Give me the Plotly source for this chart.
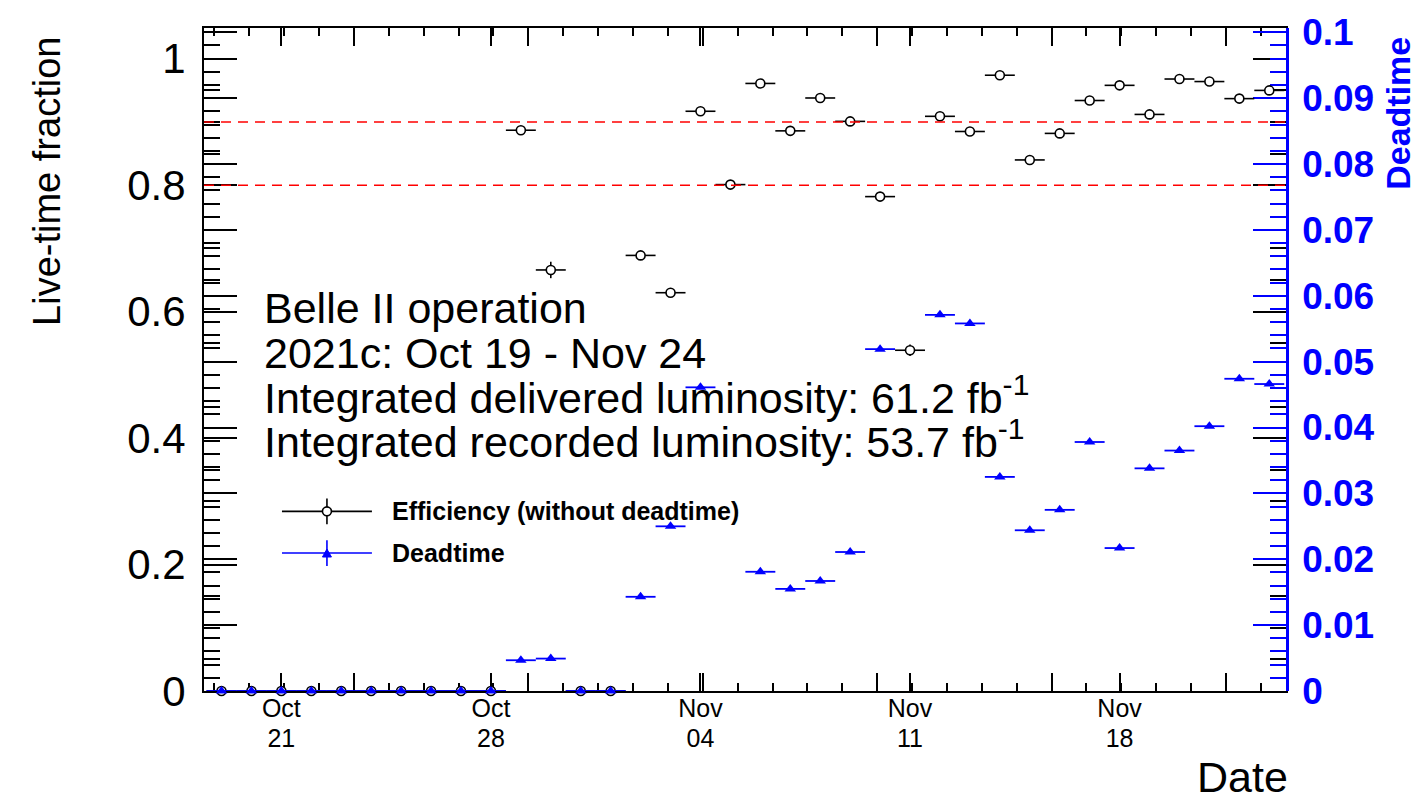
import plotly.graph_objects as go
import pandas as pd

# ---------------- data ----------------
dates = ["2021-10-19", "2021-10-20", "2021-10-21", "2021-10-22", "2021-10-23", "2021-10-24",
         "2021-10-25", "2021-10-26", "2021-10-27", "2021-10-28", "2021-10-29", "2021-10-30",
         "2021-10-31", "2021-11-01", "2021-11-02", "2021-11-03", "2021-11-04", "2021-11-05",
         "2021-11-06", "2021-11-07", "2021-11-08", "2021-11-09", "2021-11-10", "2021-11-11",
         "2021-11-12", "2021-11-13", "2021-11-14", "2021-11-15", "2021-11-16", "2021-11-17",
         "2021-11-18", "2021-11-19", "2021-11-20", "2021-11-21", "2021-11-22", "2021-11-23"]

efficiency = [0, 0, 0, 0, 0, 0, 0, 0, 0, 0,
              0.887, 0.666, 0, 0, 0.689, 0.630, 0.917, 0.801, 0.961, 0.886,
              0.938, 0.901, 0.782, 0.539, 0.909, 0.885, 0.974, 0.840, 0.882, 0.934,
              0.958, 0.912, 0.968, 0.964, 0.937, 0.950]
efficiency_err = [0, 0, 0, 0, 0, 0, 0, 0, 0, 0,
                  0.003, 0.013, 0, 0, 0.003, 0.003, 0.003, 0.003, 0.003, 0.003,
                  0.003, 0.003, 0.003, 0.009, 0.003, 0.003, 0.003, 0.003, 0.003, 0.003,
                  0.003, 0.003, 0.003, 0.003, 0.003, 0.003]
deadtime = [0, 0, 0, 0, 0, 0, 0, 0, 0, 0,
            0.00467, 0.00492, 0, 0, 0.0143, 0.0250, 0.0461, None, 0.0181, 0.0155,
            0.0167, 0.0211, 0.0519, None, 0.0571, 0.0558, 0.0325, 0.0244, 0.0275, 0.0378,
            0.0217, 0.0338, 0.0365, 0.0402, 0.0474, 0.0466]

label_dates = ["2021-10-21", "2021-10-28", "2021-11-04", "2021-11-11", "2021-11-18"]
label_months = ["Oct", "Oct", "Nov", "Nov", "Nov"]
label_days = ["21", "28", "04", "11", "18"]

reference_levels = [0.9, 0.8]

info_lines = ["Belle II operation",
              "2021c: Oct 19 - Nov 24",
              "Integrated delivered luminosity: 61.2 fb<sup>-1</sup>",
              "Integrated recorded luminosity: 53.7 fb<sup>-1</sup>"]
legend_labels = ["Efficiency (without deadtime)", "Deadtime"]

# ---------------- geometry ----------------
W, H = 1420, 805
L, R, T, B = 204, 1286.5, 23, 691
FONT = "Liberation Sans, Arial, Helvetica, sans-serif"
BLUE = "#0000ff"

origin = pd.Timestamp(dates[0])
xnum = [(pd.Timestamp(d) - origin).days for d in dates]
label_pos = [(pd.Timestamp(d) - origin).days for d in label_dates]
XR = [-0.5843, 35.559]
Y1R = [0, 1.0487]
Y2R = [0, 0.10065]


def px(x):
    return (x - L) / (R - L)


def py(y):
    return (B - y) / (B - T)


fig = go.Figure()

fig.add_trace(go.Scatter(
    x=xnum, y=efficiency, mode="markers", xaxis="x", yaxis="y",
    marker=dict(symbol="circle", size=9, color="white", line=dict(color="black", width=1.6)),
    error_x=dict(type="constant", value=0.5, color="black", thickness=1.6, width=0),
    error_y=dict(type="data", array=efficiency_err, color="black", thickness=1.6, width=0),
    cliponaxis=False, showlegend=False, hoverinfo="skip"))

fig.add_trace(go.Scatter(
    x=xnum, y=deadtime, mode="markers", xaxis="x", yaxis="y2",
    marker=dict(symbol="triangle-up", size=10, color=BLUE, line=dict(width=0)),
    error_x=dict(type="constant", value=0.5, color=BLUE, thickness=1.8, width=0),
    cliponaxis=False, showlegend=False, hoverinfo="skip"))

# empty traces so that the helper axes exist
for xa, ya in [("x2", "y"), ("x3", "y"), ("x", "y3")]:
    fig.add_trace(go.Scatter(x=[None], y=[None], xaxis=xa, yaxis=ya, mode="markers",
                             showlegend=False, hoverinfo="skip"))

common_x = dict(range=XR, domain=[0, 1], showgrid=False, zeroline=False)
fig.update_layout(
    width=W, height=H,
    margin=dict(l=L, r=W - R, t=T, b=H - B, pad=0),
    paper_bgcolor="white", plot_bgcolor="white",
    font=dict(family=FONT, color="black"),
    showlegend=False,
    xaxis=dict(**common_x, anchor="y", type="linear", showline=True, linecolor="black", linewidth=2,
               mirror="ticks", ticks="inside", ticklen=18, tickwidth=1.5, tickcolor="black",
               tickmode="linear", tick0=4.424, dtick=5.826, showticklabels=False,
               minor=dict(ticks="inside", ticklen=8, tickwidth=1.5, tickcolor="black",
                          tickmode="linear", tick0=4.424, dtick=1.1652),
               layer="below traces"),
    xaxis2=dict(**common_x, overlaying="x", anchor="y", side="bottom", showline=False,
                mirror="ticks", ticks="inside", ticklen=18, tickwidth=1.5, tickcolor="black",
                tickmode="array", tickvals=label_pos, ticktext=label_months,
                tickfont=dict(family=FONT, size=25, color="black"), ticklabelstandoff=0,
                layer="below traces"),
    xaxis3=dict(**common_x, overlaying="x", anchor="y", side="bottom", showline=False,
                ticks="", tickmode="array", tickvals=label_pos, ticktext=label_days,
                tickfont=dict(family=FONT, size=25, color="black"), ticklabelstandoff=30,
                layer="below traces"),
    yaxis=dict(range=Y1R, domain=[0, 1], anchor="x", showgrid=False, zeroline=False,
               showline=True, linecolor="black", linewidth=2, mirror="ticks",
               ticks="inside", ticklen=33, tickwidth=1.5, tickcolor="black",
               tickmode="linear", tick0=0, dtick=0.2,
               minor=dict(ticks="inside", ticklen=16, tickwidth=1.5, tickcolor="black",
                          tickmode="linear", tick0=0, dtick=0.05),
               tickfont=dict(family=FONT, size=42, color="black"), ticklabelstandoff=8,
               layer="below traces"),
    yaxis3=dict(range=Y2R, overlaying="y", anchor="x", side="left", showgrid=False,
                zeroline=False, showline=False, ticks="inside", ticklen=33, tickwidth=1.5,
                tickcolor="black", tickmode="linear", tick0=0, dtick=0.01,
                minor=dict(ticks="inside", ticklen=16, tickwidth=1.5, tickcolor="black",
                           tickmode="linear", tick0=0, dtick=0.002),
                showticklabels=False, layer="below traces"),
    yaxis2=dict(range=Y2R, overlaying="y", anchor="x", side="right", showgrid=False,
                zeroline=False, showline=True, linecolor=BLUE, linewidth=2.5,
                ticks="inside", ticklen=33, tickwidth=1.8, tickcolor=BLUE,
                tickmode="linear", tick0=0, dtick=0.01,
                minor=dict(ticks="inside", ticklen=16, tickwidth=1.8, tickcolor=BLUE,
                           tickmode="linear", tick0=0, dtick=0.002),
                tickfont=dict(family=FONT, size=37, color=BLUE, weight="bold"),
                ticklabelstandoff=6, layer="below traces"),
)

# reference dashed lines
for lvl in reference_levels:
    fig.add_shape(type="line", xref="paper", yref="y", x0=0, x1=1, y0=lvl, y1=lvl,
                  line=dict(color="red", width=1.6, dash="10px,7px"), layer="above")

# axis titles
fig.add_annotation(x=px(47), y=py(178), xref="paper", yref="paper", text="Live-time fraction",
                   textangle=-90, showarrow=False, xanchor="center", yanchor="middle",
                   font=dict(family=FONT, size=38, color="black"))
fig.add_annotation(x=px(1399), y=py(109), xref="paper", yref="paper", text="Deadtime",
                   textangle=-90, showarrow=False, xanchor="center", yanchor="middle",
                   font=dict(family=FONT, size=34, color=BLUE, weight="bold"))
fig.add_annotation(x=px(1291), y=py(804), xref="paper", yref="paper", text="Date",
                   showarrow=False, xanchor="right", yanchor="bottom",
                   font=dict(family=FONT, size=43, color="black"))

# info text block
for txt, yc in zip(info_lines, [305, 350, 393, 437]):
    fig.add_annotation(x=px(262), y=py(yc), xref="paper", yref="paper", text=txt,
                       showarrow=False, xanchor="left", yanchor="middle",
                       font=dict(family=FONT, size=43, color="black"))

# manual legend (ROOT style)
legend_rows = [(510, "black"), (552, BLUE)]
for (yc, col), lab in zip(legend_rows, legend_labels):
    fig.add_shape(type="line", xref="paper", yref="paper", x0=px(282), x1=px(372),
                  y0=py(yc), y1=py(yc), line=dict(color=col, width=1.6))
    fig.add_shape(type="line", xref="paper", yref="paper", x0=px(327), x1=px(327),
                  y0=py(yc - 13), y1=py(yc + 13), line=dict(color=col, width=1.6))
    fig.add_annotation(x=px(390), y=py(yc), xref="paper", yref="paper", text=lab,
                       showarrow=False, xanchor="left", yanchor="middle",
                       font=dict(family=FONT, size=25, color="black", weight="bold"))
# legend symbols
fig.add_shape(type="circle", xref="paper", yref="paper", x0=px(322.5), x1=px(331.5),
              y0=py(514.5), y1=py(505.5), fillcolor="white", line=dict(color="black", width=1.6))
tri = "M {:.5f} {:.5f} L {:.5f} {:.5f} L {:.5f} {:.5f} Z".format(
    px(322.5), py(556), px(331.5), py(556), px(327), py(548))
fig.add_shape(type="path", xref="paper", yref="paper", path=tri, fillcolor=BLUE,
              line=dict(color=BLUE, width=1))

fig.write_html("out.html")
